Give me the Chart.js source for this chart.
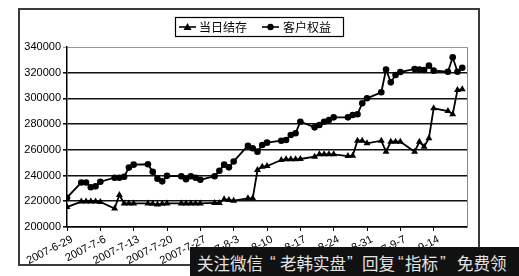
<!DOCTYPE html>
<html><head><meta charset="utf-8">
<script src="https://cdn.jsdelivr.net/npm/chart.js@4/dist/chart.umd.min.js"></script>
<style>
html,body{margin:0;padding:0;background:#fff;}
#wrap{position:relative;width:519px;height:276px;overflow:hidden;}
canvas{display:block;}
#wm{position:absolute;left:190px;top:247px;width:329px;height:29px;background:#111;color:#e4e4e4;font:16.5px "Noto Sans CJK SC";white-space:nowrap;}
#wm span{position:absolute;top:5.5px;line-height:20px;}
#wm .q{font-family:"Liberation Sans";font-size:17px;}
</style></head><body>
<div id="wrap"><canvas id="c" width="519" height="276"></canvas>
<div id="wm"><span style="left:7px">关注微信</span><span class="q" style="left:80px">“</span><span style="left:90px">老韩实盘</span><span class="q" style="left:157px">”</span><span style="left:172px">回复</span><span class="q" style="left:208px">“</span><span style="left:215px">指标</span><span class="q" style="left:250px">”</span><span style="left:267px">免费领</span></div></div>
<script>
const dates = ['2007-6-29','2007-7-2','2007-7-3','2007-7-4','2007-7-5','2007-7-6','2007-7-9','2007-7-10','2007-7-11','2007-7-12','2007-7-13',
'2007-7-16','2007-7-17','2007-7-18','2007-7-19','2007-7-20','2007-7-23','2007-7-24','2007-7-25','2007-7-26','2007-7-27',
'2007-7-30','2007-7-31','2007-8-1','2007-8-2','2007-8-3','2007-8-6','2007-8-7','2007-8-8','2007-8-9','2007-8-10',
'2007-8-13','2007-8-14','2007-8-15','2007-8-16','2007-8-17','2007-8-20','2007-8-21','2007-8-22','2007-8-23','2007-8-24',
'2007-8-27','2007-8-28','2007-8-29','2007-8-30','2007-8-31','2007-9-3','2007-9-4','2007-9-5','2007-9-6','2007-9-7',
'2007-9-10','2007-9-11','2007-9-12','2007-9-13','2007-9-14','2007-9-17','2007-9-18','2007-9-19','2007-9-20'];
const balance = [215500,219800,219800,219800,219800,219500,214300,224900,218300,218300,218300,
218300,218000,217500,218000,218300,218300,218300,218300,218300,218300,
218700,218700,221500,221000,220500,222300,222300,244300,246900,247400,
252100,252600,252600,252600,252900,254700,256500,256500,256500,256500,
255200,255500,267100,267100,265100,267100,258600,266300,266300,266300,
258600,266300,262500,269000,292300,290200,287700,306600,307100];
const equity = [222800,234600,234600,230900,231600,235200,238300,238300,239100,246200,248500,
248800,243000,237500,235500,239800,239500,237200,239500,238300,236700,
239500,243700,248500,246400,251000,263200,261200,258600,263800,265600,
267100,267700,271600,272900,281900,277500,279300,281900,283200,285300,
285300,287100,287700,296200,300100,304800,322500,312500,318200,320500,
322900,322500,322100,325500,321600,320800,332000,320800,323900];
const seriesNames = ['当日结存','客户权益'];
const tickLabels = ['2007-6-29','2007-7-6','2007-7-13','2007-7-20','2007-7-27','2007-8-3','2007-8-10','2007-8-17','2007-8-24','2007-8-31','2007-9-7','2007-9-14'];
const xEndDate = '2007-9-21';
const yMin = 200000, yMax = 340000, yStep = 20000;

function dayNum(s){const p=s.split('-').map(Number);return Date.UTC(p[0],p[1]-1,p[2])/86400000;}
const d0 = dayNum(dates[0]);
const xs = dates.map(s=>dayNum(s)-d0);
const tickXs = tickLabels.map(s=>dayNum(s)-d0);
const labelOf = {}; tickLabels.forEach((t,i)=>labelOf[tickXs[i]]=t);

const frame = {
  id:'frame',
  beforeDraw(chart){
    const c=chart.ctx; c.save(); c.strokeStyle='#3a3a3a'; c.lineWidth=2;
    c.strokeRect(19,9,460,256); c.restore();
  },
  afterDraw(chart){
    const c=chart.ctx, a=chart.chartArea; c.save();
    c.strokeStyle='#888'; c.lineWidth=1;
    c.beginPath(); c.moveTo(a.right+0.5,a.top); c.lineTo(a.right+0.5,a.bottom); c.stroke();
    // legend
    c.strokeStyle='#000'; c.lineWidth=1.2;
    c.strokeRect(175.5,17.5,168,19);
    const ly=27;
    c.lineWidth=1.6;
    c.beginPath(); c.moveTo(179,ly); c.lineTo(196,ly); c.stroke();
    c.beginPath(); c.moveTo(262,ly); c.lineTo(279,ly); c.stroke();
    c.fillStyle='#000';
    c.beginPath(); c.moveTo(187.5,ly-4); c.lineTo(191.5,ly+3); c.lineTo(183.5,ly+3); c.closePath(); c.fill();
    c.beginPath(); c.arc(270.5,ly,3.2,0,Math.PI*2); c.fill();
    c.font='12px "Noto Sans CJK SC"'; c.textBaseline='middle'; c.textAlign='left';
    c.fillText(seriesNames[0],199,ly+0.5);
    c.fillText(seriesNames[1],283,ly+0.5);
    c.restore();
  }
};

new Chart(document.getElementById('c'),{
  type:'line',
  data:{datasets:[
    {label:seriesNames[0],data:xs.map((x,i)=>({x,y:balance[i]})),borderColor:'#000',backgroundColor:'#000',borderWidth:1.8,pointStyle:'triangle',pointRadius:4,pointBorderWidth:0,tension:0},
    {label:seriesNames[1],data:xs.map((x,i)=>({x,y:equity[i]})),borderColor:'#000',backgroundColor:'#000',borderWidth:1.8,pointStyle:'circle',pointRadius:3.3,pointBorderWidth:0,tension:0}
  ]},
  options:{
    responsive:false,animation:false,
    layout:{padding:{top:47,left:20,right:52,bottom:0}},
    plugins:{legend:{display:false},tooltip:{enabled:false}},
    scales:{
      x:{type:'linear',min:0,max:dayNum(xEndDate)-d0,
        afterBuildTicks(s){s.ticks=tickXs.map(v=>({value:v}));},
        afterFit(s){s.height=49;},
        ticks:{autoSkip:false,minRotation:27,maxRotation:27,labelOffset:5,color:'#000',padding:2,font:{family:'"Liberation Sans"',size:11},callback:v=>labelOf[v]||''},
        grid:{drawOnChartArea:false,drawTicks:true,tickLength:4,color:'#000',lineWidth:1},
        border:{color:'#000',width:1.5}
      },
      y:{min:yMin,max:yMax,
        afterBuildTicks(s){const t=[];for(let v=yMin;v<=yMax;v+=yStep)t.push({value:v});s.ticks=t;},
        afterFit(s){s.width=47;},
        ticks:{color:'#000',padding:2,font:{family:'"Liberation Sans"',size:11},callback:v=>String(v)},
        grid:{color:c=>c.tick&&c.tick.value===yMax?'#999':'#111',lineWidth:c=>c.tick&&c.tick.value===yMax?1:1.6,tickLength:4},
        border:{color:'#000',width:1.5}
      }
    }
  },
  plugins:[frame]
});
</script>
</body></html>
